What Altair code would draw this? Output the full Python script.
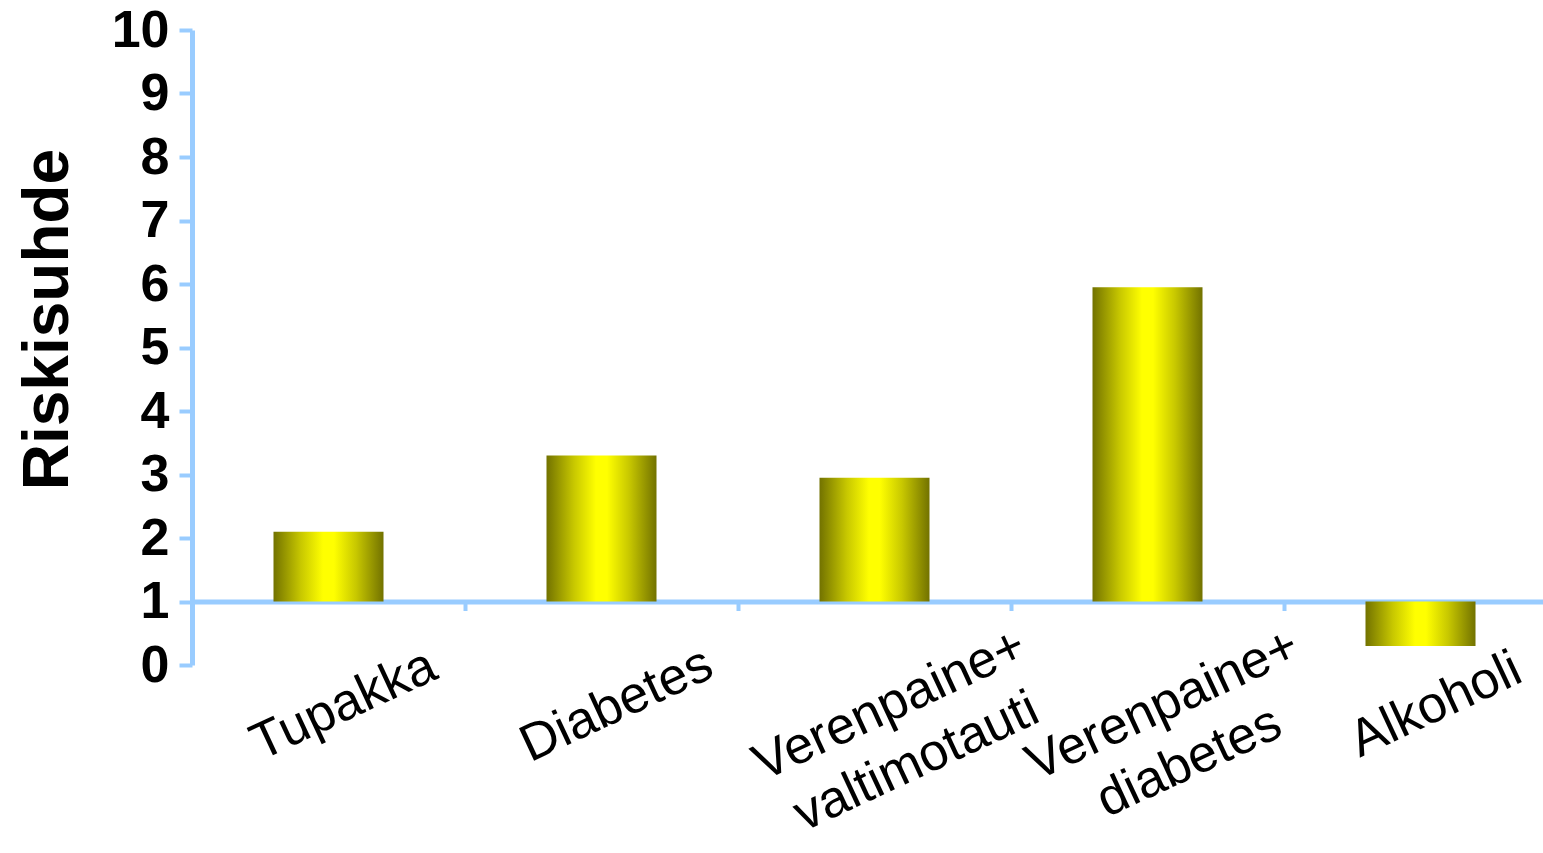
import altair as alt
import pandas as pd

categories = ["Tupakka", "Diabetes", "Verenpaine+\nvaltimotauti", "Verenpaine+\ndiabetes", "Alkoholi"]
values = [2.1, 3.3, 2.95, 5.95, 0.3]
base = [1, 1, 1, 1, 1]
y_ticks = list(range(0, 11))

df = pd.DataFrame({"cat": categories, "value": values, "base": base})

axis_blue = "#99CCFF"
font = "Liberation Sans"

gradient = alt.LinearGradient(
    gradient="linear",
    stops=[
        alt.GradientStop(color="#727200", offset=0),
        alt.GradientStop(color="#c8c800", offset=0.25),
        alt.GradientStop(color="#ffff00", offset=0.45),
        alt.GradientStop(color="#ffff00", offset=0.55),
        alt.GradientStop(color="#c8c800", offset=0.75),
        alt.GradientStop(color="#727200", offset=1),
    ],
    x1=0, x2=1, y1=0, y2=0,
)

chart = alt.Chart(df).mark_bar(color=gradient, size=110).encode(
    x=alt.X(
        "cat:N",
        sort=None,
        title=None,
        scale=alt.Scale(range=[0, 1365], paddingInner=0, paddingOuter=0),
        axis=alt.Axis(
            offset=-63.5,
            domainColor=axis_blue,
            domainWidth=5,
            tickColor=axis_blue,
            tickWidth=4,
            tickSize=9,
            tickBand="extent",
            labelFont=font,
            labelFontSize=52,
            labelColor="black",
            labelAngle=-25,
            labelAlign="center",
            labelBaseline="top",
            labelPadding=71,
            labelOffset=4,
            labelLineHeight=63,
            labelLimit=0,
            labelOverlap=False,
            labelFlush=False,
            labelExpr="split(datum.label, '\\n')",
        ),
    ),
    y=alt.Y(
        "value:Q",
        title="Riskisuhde",
        scale=alt.Scale(domain=[0, 10], nice=False, zero=True),
        axis=alt.Axis(
            values=y_ticks,
            domainColor=axis_blue,
            domainWidth=5,
            tickColor=axis_blue,
            tickWidth=4,
            tickSize=13,
            grid=False,
            labelFont=font,
            labelFontSize=52,
            labelFontWeight="bold",
            labelColor="black",
            labelPadding=10,
            titleFont=font,
            titleFontSize=64,
            titleFontWeight="bold",
            titleColor="black",
            titleX=-112,
            titleY=289,
        ),
    ),
    y2=alt.Y2("base:Q"),
).properties(
    width=1351,
    height=635,
    autosize=alt.AutoSizeParams(type="none"),
    padding={"left": 192, "top": 30, "right": 0, "bottom": 185},
    background="white",
).configure_view(strokeWidth=0)

chart.save("out.html", embed_options={"renderer": "svg", "actions": False})
